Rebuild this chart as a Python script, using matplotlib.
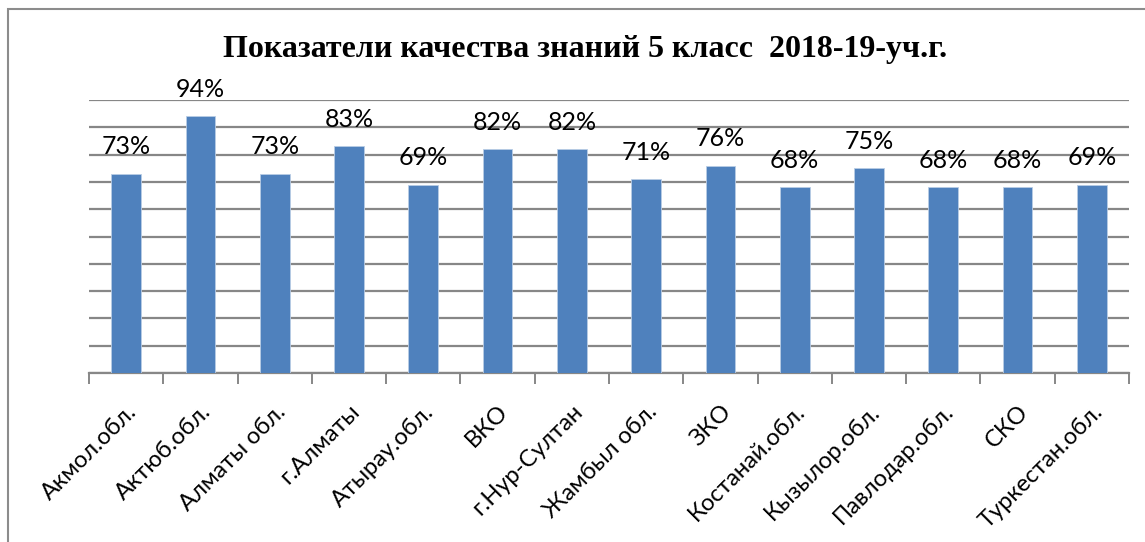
import numpy as np
import matplotlib.pyplot as plt
from matplotlib.patches import Rectangle

# Data
regions = ['Акмол.обл.', 'Актюб.обл.', 'Алматы обл.', 'г.Алматы', 'Атырау.обл.',
           'ВКО', 'г.Нур-Султан', 'Жамбыл обл.', 'ЗКО', 'Костанай.обл.',
           'Кызылор.обл.', 'Павлодар.обл.', 'СКО', 'Туркестан.обл.']
quality = [0.73, 0.94, 0.73, 0.83, 0.69, 0.82, 0.82, 0.71, 0.76, 0.68, 0.75, 0.68, 0.68, 0.69]
title = 'Показатели качества знаний 5 класс  2018-19-уч.г.'

sans = ['Lato', 'Open Sans', 'DejaVu Sans']
grid_col = '#878787'

fig = plt.figure(figsize=(11.45, 5.42), dpi=100)
ax = fig.add_axes([89 / 1145, 1 - 373 / 542, (1129 - 89) / 1145, 273 / 542])

x = np.arange(len(regions))
ax.bar(x, quality, width=0.4, color='#4F81BD', edgecolor='#B9CDE5', linewidth=0.6, zorder=3)

ax.set_xlim(-0.5, len(regions) - 0.5)
ax.set_ylim(0, 1.0)
ax.set_yticks(np.arange(0, 1.01, 0.1))
ax.yaxis.grid(True, color=grid_col, linewidth=1.6, zorder=0)
ax.tick_params(axis='y', left=False, labelleft=False)

# category boundaries for x ticks
ax.set_xticks(np.arange(-0.5, len(regions), 1.0))
ax.set_xticklabels([])
ax.tick_params(axis='x', direction='out', length=8, width=1.4, color=grid_col)
ax.set_xticks(x, minor=True)
ax.set_xticklabels(regions, minor=True, rotation=45, ha='right', va='top',
                   rotation_mode='anchor', fontsize=17, family=sans)
ax.tick_params(axis='x', which='minor', length=0, pad=20)

for s in ['left', 'right', 'top']:
    ax.spines[s].set_visible(False)
ax.spines['bottom'].set_color(grid_col)
ax.spines['bottom'].set_linewidth(1.6)

for xi, v in zip(x, quality):
    ax.annotate(f'{round(v * 100)}%', (xi, v), xytext=(0, 27), textcoords='offset pixels',
                ha='center', va='center', fontsize=18, family=sans)

fig.text(585 / 1145, 1 - 50 / 542, title, ha='center', va='center',
         fontsize=23, fontweight='bold', family=['Liberation Serif', 'DejaVu Serif'])

# outer chart frame (clipped at right and bottom)
fig.patches.append(Rectangle((8 / 1145, -0.1), 1.2, 1 - 9 / 542 + 0.1,
                             transform=fig.transFigure, fill=False,
                             edgecolor='#8C8C8C', linewidth=1.5))

fig.savefig('out.png', dpi=100)
